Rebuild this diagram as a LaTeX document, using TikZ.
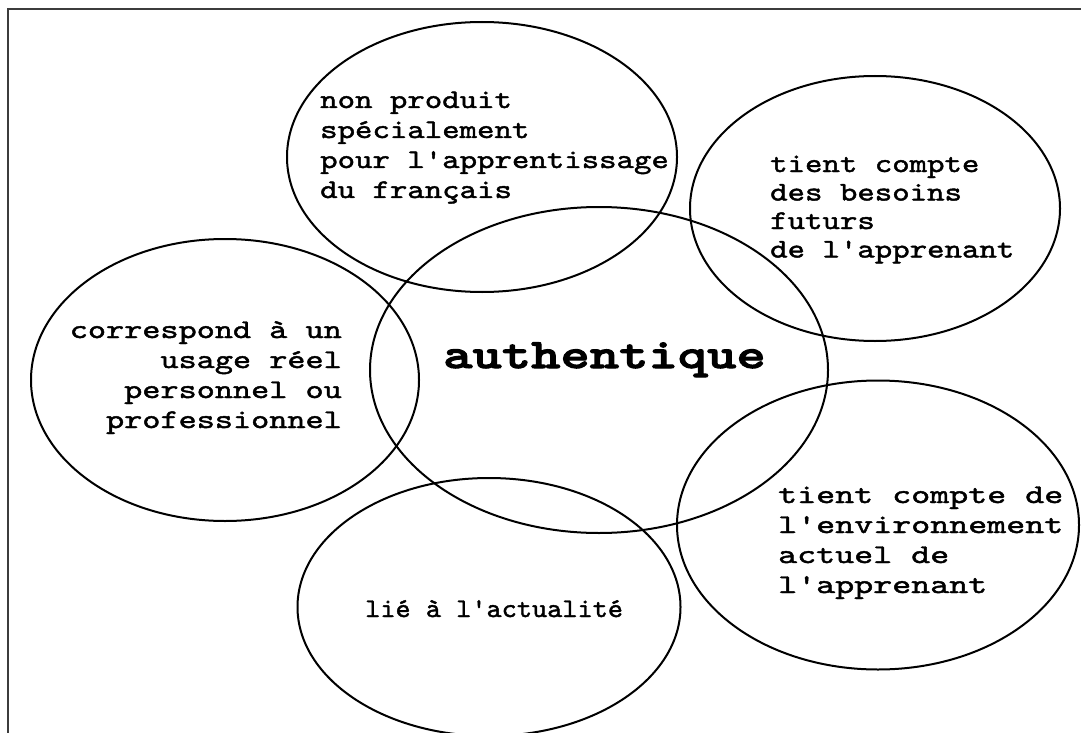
\documentclass[tikz,border=0pt]{standalone}
\usepackage{fontspec}
\usepackage{graphicx}
\newfontfamily\refmono{lmmono10-regular.otf}[FakeStretch=1.23, FakeBold=1.6]
\newfontfamily\refmonob{lmmonolt10-bold.otf}[FakeStretch=1.33, FakeBold=2.5]
\usetikzlibrary{shapes.geometric}
\definecolor{framegray}{RGB}{60,60,60}
\begin{document}
\begin{tikzpicture}[x=1pt,y=-1pt,
  ell/.style={draw=black, line width=2pt, ellipse, inner sep=0pt, outer sep=0pt},
  lbl/.style={inner sep=0pt, text=black, font=\refmono\fontsize{27}{30}\selectfont},
  lblb/.style={inner sep=0pt, text=black, font=\refmono\fontsize{27}{28.5}\selectfont},
  big/.style={inner sep=0pt, text=black, font=\refmonob\fontsize{42}{44}\selectfont}]
\useasboundingbox (0,0) rectangle (1081,733);
\draw[framegray, line width=2pt] (8,734) -- (8,9) -- (1082,9);
% ellipses
\node[ell, minimum width=390pt, minimum height=270pt] (e1) at (482,157) {};
\node[ell, minimum width=370pt, minimum height=265pt] (e2) at (875,208.5) {};
\node[ell, minimum width=458pt, minimum height=326pt] (e3) at (599,370) {};
\node[ell, minimum width=388pt, minimum height=282pt] (e4) at (225,380) {};
\node[ell, minimum width=383pt, minimum height=258pt] (e5) at (489,607) {};
\node[ell, minimum width=402pt, minimum height=289pt] (e6) at (878,525) {};
% texts
\node[lbl, anchor=base west] (t1) at (320,108) {\begin{tabular}[t]{@{}l@{}}non produit\\spécialement\\pour l'apprentissage\\du français\end{tabular}};
\node[lblb, anchor=base west] (t2) at (770,172) {\begin{tabular}[t]{@{}l@{}}tient compte\\des besoins\\futurs\\de l'apprenant\end{tabular}};
\node[big, anchor=base west] (t3) at (443,368) {authentique};
\node[lbl, anchor=base east] (t4) at (342,338) {\scalebox{1.04}[1]{\begin{tabular}[t]{@{}r@{}}correspond à un\\usage réel\\personnel ou\\professionnel\end{tabular}}};
\node[lbl, anchor=base west] (t5) at (365,617) {\scalebox{0.87}[1]{lié à l'actualité}};
\node[lbl, anchor=base west] (t6) at (778,503) {\scalebox{1.09}[1]{\begin{tabular}[t]{@{}l@{}}tient compte de\\l'environnement\\actuel de\\l'apprenant\end{tabular}}};
\end{tikzpicture}
\end{document}
